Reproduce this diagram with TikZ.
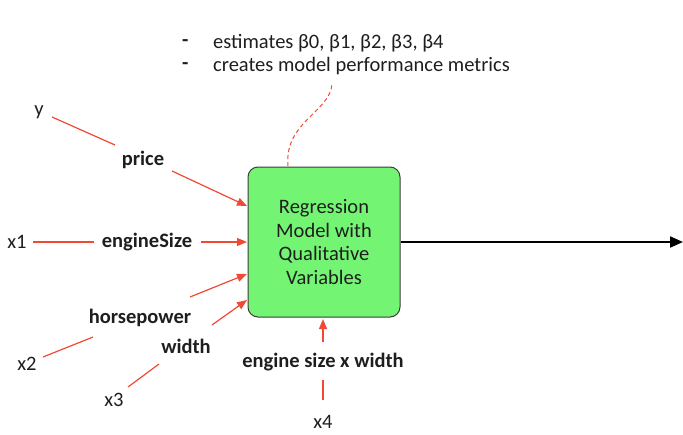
\documentclass[tikz,border=0pt]{standalone}
\usepackage{fontspec}
\setmainfont{Carlito}
\usetikzlibrary{arrows.meta}
\definecolor{redline}{RGB}{240,74,52}
\definecolor{boxgreen}{RGB}{115,245,115}
\definecolor{boxedge}{RGB}{60,60,60}
\definecolor{txt}{RGB}{30,30,30}
\tikzset{
  lbl/.style={font=\fontsize{20.5}{23}\selectfont\bfseries, text=txt, inner sep=1pt},
  var/.style={font=\fontsize{20.5}{23}\selectfont, text=txt, inner sep=1pt},
  redln/.style={draw=redline, line width=1.2pt},
  redarr/.style={draw=redline, line width=1.2pt, -{Triangle[length=10pt,width=8pt]}, fill=redline},
}
\begin{document}
\begin{tikzpicture}[x=1pt,y=-1pt]
\useasboundingbox (0,0) rectangle (683,434);
% main box
\node[draw=boxedge, fill=boxgreen, line width=1pt, rounded corners=10pt,
      minimum width=152pt, minimum height=150pt, align=center,
      font=\fontsize{20.5}{23.7}\selectfont, text=txt] (box) at (324,242)
  {Regression\\Model with\\Qualitative\\Variables};
% output
\coordinate (out) at (683,242);
\draw[line width=2pt, -{Triangle[length=13pt,width=11pt]}] (box.east) -- (out);
% notes
\node[var, font=\fontsize{20.5}{23}\selectfont\bfseries, anchor=west] (b1) at (181,43) {-};
\node[var, anchor=west] (n1) at (212,43) {estimates β0, β1, β2, β3, β4};
\node[var, font=\fontsize{20.5}{23}\selectfont\bfseries, anchor=west] (b2) at (181,66) {-};
\node[var, anchor=west] (n2) at (212,66) {creates model performance metrics};
\coordinate (dtop) at (332,84);
\coordinate (dbot) at (288,166);
\draw[draw=redline, line width=1pt, dash pattern=on 4pt off 3pt] (dbot) .. controls (284,122) and (330,112) .. (dtop);
% y / price
\node[var] (y) at (39,112) {y};
\node[lbl] (price) at (143,160) {price};
\coordinate (ya) at (52,117); \coordinate (yb) at (115,145);
\coordinate (pa) at (172,171); \coordinate (pb) at (247,206);
\draw[redln] (ya) -- (yb);
\draw[redarr] (pa) -- (pb);
% x1 / engineSize
\node[var] (x1) at (17,242) {x1};
\node[lbl] (es) at (147,242) {engineSize};
\coordinate (x1a) at (33,242); \coordinate (x1b) at (94,242);
\coordinate (ea) at (201,242); \coordinate (eb) at (247,242);
\draw[redln] (x1a) -- (x1b);
\draw[redarr] (ea) -- (eb);
% x2 / horsepower
\node[var] (x2) at (27,364) {x2};
\node[lbl] (hp) at (140,318) {horsepower};
\coordinate (x2a) at (43,357); \coordinate (x2b) at (93,337);
\coordinate (ha) at (190,297); \coordinate (hb) at (247,274);
\draw[redln] (x2a) -- (x2b);
\draw[redarr] (ha) -- (hb);
% x3 / width
\node[var] (x3) at (114,400) {x3};
\node[lbl] (wd) at (186,346) {width};
\coordinate (x3a) at (128,387); \coordinate (x3b) at (159,364);
\coordinate (wa) at (212,325); \coordinate (wb) at (247,300);
\draw[redln] (x3a) -- (x3b);
\draw[redarr] (wa) -- (wb);
% x4 / engine size x width
\node[var] (x4) at (323,422) {x4};
\node[lbl] (esw) at (323,362) {engine size x width};
\coordinate (x4a) at (323,400); \coordinate (x4b) at (323,380);
\coordinate (ia) at (323,342); \coordinate (ib) at (323,319);
\draw[redln] (x4a) -- (x4b);
\draw[redarr] (ia) -- (ib);
\end{tikzpicture}
\end{document}
